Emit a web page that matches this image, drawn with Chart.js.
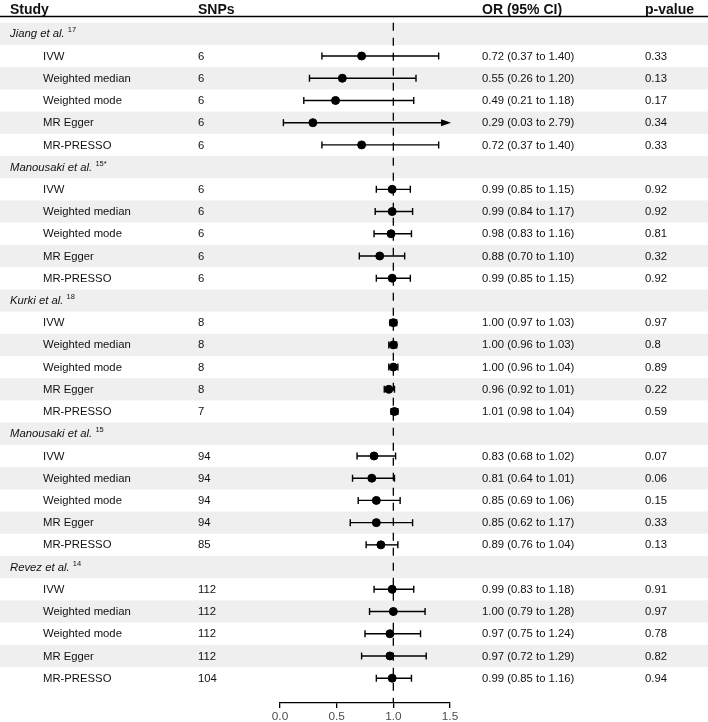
<!DOCTYPE html>
<html>
<head>
<meta charset="utf-8">
<script src="https://cdn.jsdelivr.net/npm/chart.js@4.4.1/dist/chart.umd.min.js"></script>
<style>
html,body{margin:0;padding:0;background:#fff;}
#wrap{width:708px;height:722px;position:relative;}
</style>
</head>
<body>
<div id="wrap"><canvas id="c" width="708" height="722"></canvas></div>
<script>
// ---- data ----
const studies = ["Jiang et al.", "Manousaki et al.", "Kurki et al.", "Manousaki et al.", "Revez et al."];
const studyRefs = ["17", "15*", "18", "15", "14"];
const methods = ["IVW", "Weighted median", "Weighted mode", "MR Egger", "MR-PRESSO"];
const snps = [
  [6, 6, 6, 6, 6],
  [6, 6, 6, 6, 6],
  [8, 8, 8, 8, 7],
  [94, 94, 94, 94, 85],
  [112, 112, 112, 112, 104]
];
const orValues = [
  [0.72, 0.55, 0.49, 0.29, 0.72],
  [0.99, 0.99, 0.98, 0.88, 0.99],
  [1.00, 1.00, 1.00, 0.96, 1.01],
  [0.83, 0.81, 0.85, 0.85, 0.89],
  [0.99, 1.00, 0.97, 0.97, 0.99]
];
const lowerCI = [
  [0.37, 0.26, 0.21, 0.03, 0.37],
  [0.85, 0.84, 0.83, 0.70, 0.85],
  [0.97, 0.96, 0.96, 0.92, 0.98],
  [0.68, 0.64, 0.69, 0.62, 0.76],
  [0.83, 0.79, 0.75, 0.72, 0.85]
];
const upperCI = [
  [1.40, 1.20, 1.18, 2.79, 1.40],
  [1.15, 1.17, 1.16, 1.10, 1.15],
  [1.03, 1.03, 1.04, 1.01, 1.04],
  [1.02, 1.01, 1.06, 1.17, 1.04],
  [1.18, 1.28, 1.24, 1.29, 1.16]
];
const pValues = [
  ["0.33", "0.13", "0.17", "0.34", "0.33"],
  ["0.92", "0.92", "0.81", "0.32", "0.92"],
  ["0.97", "0.8", "0.89", "0.22", "0.59"],
  ["0.07", "0.06", "0.15", "0.33", "0.13"],
  ["0.91", "0.97", "0.78", "0.82", "0.94"]
];
const headers = ["Study", "SNPs", "OR (95% CI)", "p-value"];
const tickValues = [0, 0.5, 1.0, 1.5];
const tickLabels = ["0.0", "0.5", "1.0", "1.5"];
const nullValue = 1.0;

// ---- build rows ----
const rows = [];
studies.forEach((s, si) => {
  rows.push({type: 'study', si});
  methods.forEach((m, mi) => rows.push({type: 'method', si, mi}));
});
const pointData = [];
rows.forEach((r, i) => {
  if (r.type === 'method') pointData.push({x: orValues[r.si][r.mi], y: i, si: r.si, mi: r.mi});
});
const nRows = rows.length;
const yMin = -1.296, yMax = 30.117;

const FONT = '"Liberation Sans", Arial, Helvetica, sans-serif';
const TXT = '#111111';
const COL = {study: 10, method: 43, snps: 198, or: 482, p: 645};

const tablePlugin = {
  id: 'table',
  beforeDraw(chart) {
    const ctx = chart.ctx, y = chart.scales.y;
    ctx.save();
    ctx.fillStyle = '#ffffff';
    ctx.fillRect(0, 0, chart.width, chart.height);
    ctx.fillStyle = '#efefef';
    for (let i = 0; i < nRows; i += 2) {
      const t = y.getPixelForValue(i - 0.5), b = y.getPixelForValue(i + 0.5);
      ctx.fillRect(0, t, chart.width, b - t);
    }
    ctx.restore();
  },
  afterDatasetDraw(chart, args) {
    if (args.index !== 1) return;
    const ctx = chart.ctx, x = chart.scales.x, y = chart.scales.y;
    ctx.save();
    ctx.strokeStyle = '#000';
    ctx.fillStyle = '#000';
    ctx.lineWidth = 1.4;
    pointData.forEach(p => {
      const lo = lowerCI[p.si][p.mi], hi = upperCI[p.si][p.mi];
      const py = y.getPixelForValue(p.y);
      const xl = x.getPixelForValue(Math.max(lo, x.min));
      const arrow = hi > x.max;
      const xr = arrow ? x.getPixelForValue(x.max) + 1 : x.getPixelForValue(hi);
      ctx.beginPath();
      ctx.moveTo(xl, py);
      ctx.lineTo(arrow ? xr - 8 : xr, py);
      ctx.stroke();
      ctx.beginPath();
      ctx.moveTo(xl, py - 3.5); ctx.lineTo(xl, py + 3.5);
      if (!arrow) { ctx.moveTo(xr, py - 3.5); ctx.lineTo(xr, py + 3.5); }
      ctx.stroke();
      if (arrow) {
        ctx.beginPath();
        ctx.moveTo(xr, py);
        ctx.lineTo(xr - 10, py - 3.5);
        ctx.lineTo(xr - 10, py + 3.5);
        ctx.closePath();
        ctx.fill();
      }
    });
    ctx.restore();
  },
  afterDraw(chart) {
    const ctx = chart.ctx, y = chart.scales.y;
    ctx.save();
    // header
    ctx.fillStyle = TXT;
    ctx.font = 'bold 14px ' + FONT;
    ctx.textBaseline = 'alphabetic';
    ctx.fillText(headers[0], COL.study, 13.5);
    ctx.fillText(headers[1], COL.snps, 13.5);
    ctx.fillText(headers[2], COL.or, 13.5);
    ctx.fillText(headers[3], COL.p, 13.5);
    ctx.strokeStyle = '#000';
    ctx.lineWidth = 1.6;
    ctx.beginPath();
    ctx.moveTo(0, 16.5); ctx.lineTo(chart.width, 16.5);
    ctx.stroke();
    // rows
    ctx.textBaseline = 'middle';
    rows.forEach((r, i) => {
      const py = y.getPixelForValue(i) + 0.5;
      if (r.type === 'study') {
        ctx.font = 'italic 11.3px ' + FONT;
        ctx.fillText(studies[r.si], COL.study, py);
        const w = ctx.measureText(studies[r.si] + ' ').width;
        ctx.font = '7.5px ' + FONT;
        ctx.fillText(studyRefs[r.si], COL.study + w, py - 4);
      } else {
        ctx.font = '11.3px ' + FONT;
        const o = orValues[r.si][r.mi], lo = lowerCI[r.si][r.mi], hi = upperCI[r.si][r.mi];
        ctx.fillText(methods[r.mi], COL.method, py);
        ctx.fillText(String(snps[r.si][r.mi]), COL.snps, py);
        ctx.fillText(o.toFixed(2) + ' (' + lo.toFixed(2) + ' to ' + hi.toFixed(2) + ')', COL.or, py);
        ctx.fillText(pValues[r.si][r.mi], COL.p, py);
      }
    });
    ctx.restore();
  }
};

new Chart(document.getElementById('c'), {
  type: 'scatter',
  data: {
    datasets: [
      {
        label: 'OR',
        data: pointData,
        backgroundColor: '#000',
        borderColor: '#000',
        pointRadius: 4,
        pointHoverRadius: 4,
        clip: false,
        order: 1
      },
      {
        type: 'line',
        label: 'null',
        data: [{x: nullValue, y: -0.5}, {x: nullValue, y: yMax}],
        borderColor: '#000',
        borderWidth: 1.3,
        borderDash: [8, 7],
        pointRadius: 0,
        showLine: true,
        clip: false,
        order: 2
      }
    ]
  },
  options: {
    responsive: false,
    animation: false,
    devicePixelRatio: 1,
    layout: {padding: {left: 280, right: 258, top: 0, bottom: 0}},
    plugins: {legend: {display: false}, tooltip: {enabled: false}},
    scales: {
      x: {
        type: 'linear',
        min: 0, max: 1.5,
        afterBuildTicks(scale) { scale.ticks = tickValues.map(v => ({value: v})); },
        afterFit(scale) { scale.height = 19; },
        ticks: {
          color: '#4d4d4d',
          font: {family: FONT, size: 11.8},
          padding: 2,
          maxRotation: 0,
          autoSkip: false,
          callback(v) { const k = tickValues.indexOf(v); return k >= 0 ? tickLabels[k] : ''; }
        },
        grid: {drawOnChartArea: false, drawTicks: true, tickLength: 5, color: '#000', lineWidth: 1.3},
        border: {display: true, color: '#000', width: 1.3}
      },
      y: {
        type: 'linear',
        display: false,
        reverse: true,
        min: yMin, max: yMax
      }
    }
  },
  plugins: [tablePlugin]
});
</script>
</body>
</html>
